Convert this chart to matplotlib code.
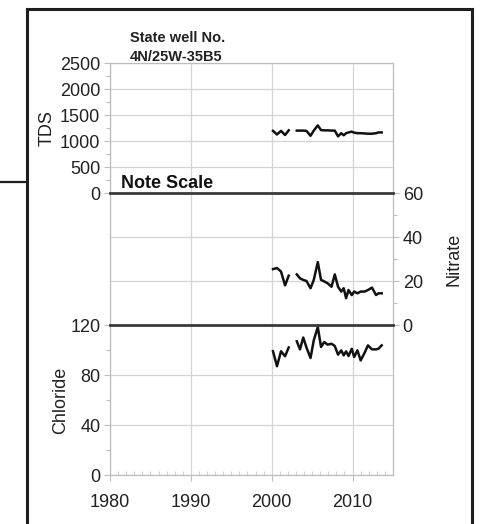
import numpy as np
import matplotlib
matplotlib.use("Agg")
import matplotlib.pyplot as plt
from matplotlib.lines import Line2D
from matplotlib.ticker import MultipleLocator

plt.rcParams['font.family'] = ['Liberation Sans', 'DejaVu Sans']

nan = np.nan
# sample dates (decimal years); NaN marks the gap in sampling
dates = [2000.16, 2000.65, 2001.15, 2001.65, 2002.1, nan,
         2003.1, 2003.5, 2003.9, 2004.3, 2004.8, 2005.2, 2005.7, 2006.1, 2006.5,
         2006.9, 2007.4, 2007.8, 2008.2, 2008.6, 2008.9, 2009.2, 2009.5, 2009.9,
         2010.2, 2010.6, 2011.0, 2011.5, 2011.9, 2012.4, 2012.9, 2013.2, 2013.6]

tds = [1195, 1125, 1195, 1115, 1205, nan,
       1200, 1200, 1200, 1195, 1100, 1200, 1300, 1210, 1205,
       1205, 1200, 1200, 1090, 1150, 1110, 1150, 1165, 1180,
       1160, 1150, 1150, 1145, 1140, 1140, 1150, 1165, 1165]

nitrate = [25.4, 25.9, 24.3, 18.0, 22.4, nan,
           23.0, 21.2, 20.5, 20.0, 16.7, 20.5, 28.6, 20.5, 19.8,
           19.0, 17.4, 23.0, 17.4, 15.2, 16.7, 12.2, 15.9, 13.6,
           15.2, 14.4, 15.2, 15.2, 15.9, 17.0, 13.6, 14.4, 14.4]

chloride = [99, 87, 99, 95, 102, nan,
            107, 100.5, 110, 102, 93.6, 107.7, 118.4, 102.4, 106.4,
            104.3, 105, 103.2, 96.3, 99.7, 95.7, 98.9, 95.2, 101,
            94.4, 99.7, 91.7, 97.9, 103.7, 100.5, 100.5, 101, 103.7]

xticks = [1980, 1990, 2000, 2010]
tds_ticks = [0, 500, 1000, 1500, 2000, 2500]
nit_ticks = [0, 20, 40, 60]
chl_ticks = [0, 40, 80, 120]

W, H = 483, 524
fig = plt.figure(figsize=(W / 100, H / 100), dpi=100)

def fx(px):
    return px / W

def fy(py):
    return 1 - py / H

left, right = 110, 393
panels = [(63, 193), (193, 325), (325, 475)]
axes = []
for top, bot in panels:
    ax = fig.add_axes([fx(left), fy(bot), fx(right) - fx(left), (bot - top) / H])
    axes.append(ax)

ax_t, ax_n, ax_c = axes
grid_c = '#d4d4d4'
spine_c = '#bdbdbd'
txt_c = '#222222'
fs = 13

for ax in axes:
    ax.set_xlim(1980, 2015)
    ax.set_xticks(xticks)
    ax.xaxis.set_minor_locator(MultipleLocator(1))
    ax.grid(True, color=grid_c, linewidth=0.9)
    ax.set_axisbelow(True)
    for s in ax.spines.values():
        s.set_color(spine_c)
        s.set_linewidth(0.9)
    ax.tick_params(axis='both', which='both', color=spine_c, labelcolor=txt_c,
                   labelsize=fs, width=0.8)
    ax.tick_params(axis='y', which='major', length=4, pad=3)
    ax.tick_params(axis='y', which='minor', length=3)
    ax.set_facecolor('none')

for ax in (ax_t, ax_n):
    ax.tick_params(axis='x', which='both', bottom=False, labelbottom=False)

ax_c.tick_params(axis='x', which='major', length=4, direction='out', pad=10)
ax_c.tick_params(axis='x', which='minor', length=3, direction='in', color='#cfcfcf')

# TDS
ax_t.plot(dates, tds, color='#111111', lw=1.8)
ax_t.set_ylim(0, 2500)
ax_t.set_yticks(tds_ticks)
ax_t.yaxis.set_minor_locator(MultipleLocator(250))
ax_t.set_ylabel('TDS', fontsize=fs, color=txt_c, labelpad=3)
ax_t.spines['bottom'].set_visible(False)

# Nitrate
ax_n.plot(dates, nitrate, color='#111111', lw=1.8)
ax_n.set_ylim(0, 60)
ax_n.set_yticks(nit_ticks)
ax_n.yaxis.set_minor_locator(MultipleLocator(10))
ax_n.yaxis.tick_right()
ax_n.yaxis.set_label_position('right')
ax_n.tick_params(axis='y', which='both', left=False, labelleft=False)
ax_n.set_ylabel('Nitrate', fontsize=fs, color=txt_c, labelpad=16)
ax_n.spines['top'].set_visible(False)
ax_n.spines['bottom'].set_visible(False)

# Chloride
ax_c.plot(dates, chloride, color='#111111', lw=1.8)
ax_c.set_ylim(0, 120)
ax_c.set_yticks(chl_ticks)
ax_c.yaxis.set_minor_locator(MultipleLocator(20))
ax_c.set_ylabel('Chloride', fontsize=fs, color=txt_c, labelpad=1)
ax_c.spines['top'].set_visible(False)

# panel boundaries (dark lines on top of everything)
for yb in (193, 325):
    fig.add_artist(Line2D([fx(left), fx(right)], [fy(yb), fy(yb)], color='#3a3a3a',
                          lw=2.0, zorder=10))

# annotations
fig.text(fx(130), fy(42), 'State well No.', fontsize=10.5, fontweight='bold',
         color=txt_c, va='baseline', ha='left')
fig.text(fx(130), fy(61), '4N/25W-35B5', fontsize=10.5, fontweight='bold',
         color=txt_c, va='baseline', ha='left')
fig.text(fx(121), fy(188), 'Note Scale', fontsize=13, fontweight='bold',
         color='#111111', va='baseline', ha='left')

# outer frame
fc = '#1e1e1e'
fig.add_artist(Line2D([fx(27), fx(27)], [fy(9), 0], color=fc, lw=2.2))
fig.add_artist(Line2D([fx(472), fx(472)], [fy(9), 0], color=fc, lw=2.2))
fig.add_artist(Line2D([fx(27), fx(472)], [fy(9), fy(9)], color=fc, lw=2.2))
fig.add_artist(Line2D([0, fx(27)], [fy(182), fy(182)], color=fc, lw=1.6))

fig.savefig('out.png', dpi=100)
